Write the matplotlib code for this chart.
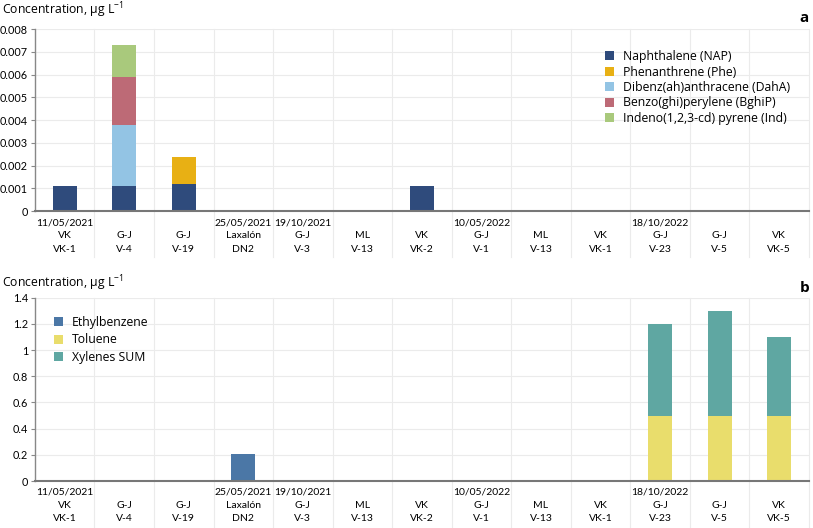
import matplotlib.pyplot as plt
import numpy as np
from matplotlib.transforms import blended_transform_factory

plt.rcParams['font.family'] = ['Lato', 'DejaVu Sans']
plt.rcParams['font.size'] = 7.5

dates = ["11/05/2021", "", "", "25/05/2021", "19/10/2021", "", "", "10/05/2022", "", "", "18/10/2022", "", ""]
sites = ["VK", "G-J", "G-J", "Laxalón", "G-J", "ML", "VK", "G-J", "ML", "VK", "G-J", "G-J", "VK"]
wells = ["VK-1", "V-4", "V-19", "DN2", "V-3", "V-13", "VK-2", "V-1", "V-13", "VK-1", "V-23", "V-5", "VK-5"]

# panel a: PAHs
nap = [0.0011, 0.0011, 0.0012, 0, 0, 0, 0.0011, 0, 0, 0, 0, 0, 0]
phe = [0, 0, 0.0012, 0, 0, 0, 0, 0, 0, 0, 0, 0, 0]
daha = [0, 0.0027, 0, 0, 0, 0, 0, 0, 0, 0, 0, 0, 0]
bghip = [0, 0.0021, 0, 0, 0, 0, 0, 0, 0, 0, 0, 0, 0]
ind = [0, 0.0014, 0, 0, 0, 0, 0, 0, 0, 0, 0, 0, 0]

# panel b: BTEX
ethylbenzene = [0, 0, 0, 0.21, 0, 0, 0, 0, 0, 0, 0, 0, 0]
toluene = [0, 0, 0, 0, 0, 0, 0, 0, 0, 0, 0.5, 0.5, 0.5]
xylenes = [0, 0, 0, 0, 0, 0, 0, 0, 0, 0, 0.7, 0.8, 0.6]

pah_series = [
    ("Naphthalene (NAP)", nap, "#2f4b7c"),
    ("Phenanthrene (Phe)", phe, "#e8b014"),
    ("Dibenz(ah)anthracene (DahA)", daha, "#93c4e4"),
    ("Benzo(ghi)perylene (BghiP)", bghip, "#bd6a76"),
    ("Indeno(1,2,3-cd) pyrene (Ind)", ind, "#a9c97c"),
]
btex_series = [
    ("Ethylbenzene", ethylbenzene, "#4b77a6"),
    ("Toluene", toluene, "#e9dd6c"),
    ("Xylenes SUM", xylenes, "#5fa7a2"),
]

labels = [f"{d}\n{s}\n{w}" for d, s, w in zip(dates, sites, wells)]
x = np.arange(len(labels))

fig = plt.figure(figsize=(8.13, 5.28), dpi=100)
ax_a = fig.add_axes([0.043, 0.600, 0.952, 0.345])
ax_b = fig.add_axes([0.043, 0.089, 0.952, 0.347])


def draw_panel(ax, series, ymax, yticks, ylabels, sep_bottom):
    bottom = np.zeros(len(x))
    for name, vals, color in series:
        vals = np.array(vals)
        ax.bar(x, vals, 0.4, bottom=bottom, color=color, label=name, zorder=3)
        bottom += vals
    ax.set_xlim(-0.5, len(x) - 0.5)
    ax.set_ylim(0, ymax)
    ax.set_yticks(yticks)
    ax.set_yticklabels(ylabels, fontsize=7.8)
    ax.set_xticks(x)
    ax.set_xticklabels(labels, linespacing=1.6)
    ax.tick_params(axis='x', length=0, pad=5)
    ax.tick_params(axis='y', length=3, width=0.8, color='#888888', pad=2)
    ax.yaxis.grid(True, color='#ebebeb', linewidth=0.8, zorder=0)
    for sp in ['top', 'right']:
        ax.spines[sp].set_visible(False)
    ax.spines['left'].set_color('#888888')
    ax.spines['left'].set_linewidth(1.0)
    ax.spines['bottom'].set_color('#777777')
    ax.spines['bottom'].set_linewidth(1.5)
    ax.spines['bottom'].set_zorder(4)
    trans = blended_transform_factory(ax.transData, ax.transAxes)
    for b in np.arange(0.5, len(x), 1.0):
        ax.plot([b, b], [sep_bottom, 1], transform=trans, color='#ebebeb',
                linewidth=0.8, clip_on=False, zorder=0)


draw_panel(ax_a, pah_series, 0.008, np.arange(0, 0.0081, 0.001),
           ["0", "0.001", "0.002", "0.003", "0.004", "0.005", "0.006", "0.007", "0.008"], -0.25)
draw_panel(ax_b, btex_series, 1.4, np.arange(0, 1.41, 0.2),
           ["0", "0.2", "0.4", "0.6", "0.8", "1", "1.2", "1.4"], -0.26)

leg_font = {'family': ['Open Sans', 'DejaVu Sans'], 'size': 8.8}
ax_a.legend(loc='upper left', bbox_to_anchor=(0.722, 0.945), frameon=False,
            handlelength=0.75, handleheight=0.75, handletextpad=0.75, labelspacing=0.2,
            prop=leg_font)
ax_b.legend(loc='upper left', bbox_to_anchor=(0.010, 0.96), frameon=False,
            handlelength=0.75, handleheight=0.75, handletextpad=0.75, labelspacing=0.35,
            prop=leg_font)

title = r"Concentration, µg L$^{\mathregular{-1}}$"
fig.text(0.003, 0.980, title, fontsize=8.8, family=['Open Sans', 'DejaVu Sans'], va='center')
fig.text(0.003, 0.464, title, fontsize=8.8, family=['Open Sans', 'DejaVu Sans'], va='center')
fig.text(0.995, 0.966, "a", fontsize=11, fontweight='bold', ha='right', va='center',
         family=['Open Sans', 'DejaVu Sans'])
fig.text(0.995, 0.454, "b", fontsize=11, fontweight='bold', ha='right', va='center',
         family=['Open Sans', 'DejaVu Sans'])

fig.savefig("out.png", dpi=100)
